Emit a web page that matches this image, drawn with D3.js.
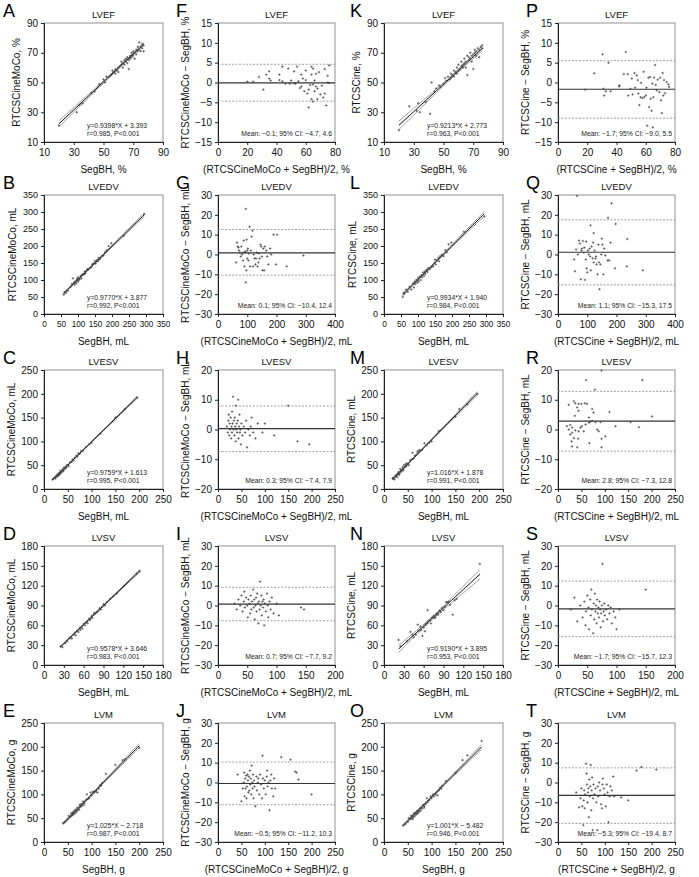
<!DOCTYPE html>
<html><head><meta charset="utf-8">
<script src="https://cdn.jsdelivr.net/npm/d3@7"></script>
<style>
body{margin:0;background:#fff}
svg{display:block}
text{font-family:"Liberation Sans",Arial,Helvetica,sans-serif}
</style>
</head><body>
<svg id="c" width="699" height="877"></svg>
<script>
// ---------------- DATA ----------------
const rowTitles = ["LVEF","LVEDV","LVESV","LVSV","LVM"];
const letters = [["A","F","K","P"],["B","G","L","Q"],["C","H","M","R"],["D","I","N","S"],["E","J","O","T"]];

// LVEF
const lvefMocoScatter = [[20,21],[32,30],[34,35],[36,36],[42,43],[44,44],[47,49],[50,52],[51,50],[52,54],[54,54],[55,55],[56,56],[56,58],[57,57],[58,59],[58,56],[59,58],[60,60],[60,57],[61,61],[62,62],[62,64],[63,60],[63,63],[64,65],[64,62],[65,66],[65,64],[66,67],[66,63],[67,65],[67,59],[68,66],[68,68],[69,67],[69,70],[70,71],[70,68],[71,66],[71,70],[72,72],[72,69],[73,74],[73,71],[74,77],[74,72],[75,74],[75,71],[76,76],[76,73],[77,75],[77,71]];
const lvefMocoBA = [[20,0.2],[24,0.2],[28,1.4],[31,-1.8],[33,2],[35,2.8],[35,1],[36,0.5],[42,2],[42,0.6],[44,4],[44,0.3],[46,-0.3],[48,3.5],[49,-0.3],[50,0.5],[52,2.8],[52,-0.2],[53,-0.3],[54,4],[55,0.3],[56,-1.4],[57,2],[57,-1],[58,1],[59,-2.2],[60,3],[60,0.6],[61,-2.8],[62,-1.8],[62,-6.3],[63,-0.6],[64,4],[64,2],[64,-4.2],[65,3.5],[65,-0.5],[65,-4.8],[66,0.5],[66,-2.2],[67,2.2],[67,-1],[68,-1.5],[68,-4.2],[69,2.6],[70,-3],[71,-0.8],[72,-3.8],[73,3.4],[73,-2.8],[74,-5.8],[75,1.7],[75,0],[76,4.3],[76,-0.1]];
const lvefCineScatter = [[20,18],[27,34],[32,31],[33,36],[34,30],[38,37],[41,29],[42,50],[44,44],[45,46],[47,48],[48,47],[50,49],[51,53],[52,51],[53,54],[54,52],[55,56],[55,53],[56,55],[57,58],[57,54],[58,57],[59,60],[59,56],[60,58],[60,62],[61,59],[62,61],[62,64],[63,62],[63,60],[64,66],[64,63],[65,60],[65,64],[66,68],[66,55],[67,65],[67,67],[68,66],[68,70],[69,68],[69,64],[70,69],[70,59],[71,72],[71,70],[72,68],[72,71],[73,73],[74,72],[74,67],[75,74],[76,75],[76,73]];
const lvefCineBA = [[18.6,-1.8],[24.8,2.3],[30.5,7.1],[31,-1.6],[31.6,-3.3],[32.7,-2.2],[34.5,5],[36,-2.2],[41.8,-1],[42,-0.7],[46.4,7.7],[45,2.1],[47.7,2.1],[48,-3.3],[49.5,-1.6],[50.5,1],[51,-3],[52.3,2.4],[52.7,-1.3],[53.9,1.8],[54.5,0.6],[55,-2.8],[55.7,-5.7],[56.4,-3.7],[56.8,-0.1],[57.7,-3.9],[58.6,2.7],[59,-3.7],[60,-3.3],[60.5,-1.3],[61,-10.9],[61.8,1.2],[62.3,-6.2],[63,1.4],[63.4,-4.1],[64,-7.1],[64.5,-0.3],[64.8,-11.3],[65.2,-3.7],[65.7,1.2],[66.4,4.4],[66.8,-0.6],[67.5,-2],[68.2,0.7],[69.3,-2.4],[69.8,1.2],[70.5,-4.5],[71,-7.7],[71.6,2.4],[72,-3.3],[72.5,0.6],[73.2,-2.7],[74.3,0.1],[75.5,-0.5],[76,-1.1]];

// LVEDV
const lvedvMocoScatter = [[58,57],[60,64],[65,62],[70,68],[78,80],[82,88],[85,105],[88,92],[90,86],[92,96],[95,90],[96,100],[98,104],[100,95],[100,108],[102,100],[105,102],[108,112],[110,105],[112,115],[115,118],[118,116],[120,125],[122,120],[125,128],[128,132],[130,130],[135,135],[140,138],[142,146],[145,148],[150,150],[150,156],[152,148],[155,158],[158,155],[160,165],[162,160],[165,163],[170,170],[175,172],[180,182],[185,188],[190,200],[198,208],[235,230],[295,294]];
const lvedvMocoBA = [[62,-4],[65,6],[68,4],[70,3.5],[72,2],[75,1],[78,-1],[80,4],[82,0],[85,1],[86,-3],[88,7],[90,-6],[92,1],[93,1.5],[95,23],[95,-14],[97,-8],[98,7.5],[100,2],[100,-2],[102,3],[104,-3],[105,0.5],[108,14],[110,-6],[112,2],[115,9],[118,12],[120,-6],[122,0],[125,-2],[128,-5],[130,-2],[132,1],[135,-6],[138,-4],[140,0.5],[142,-2],[145,5],[148,4],[150,-1],[152,-8],[155,3],[158,-8],[160,4],[165,2],[168,-1],[172,-5],[178,3],[182,0],[190,10],[198,-5],[202,10],[235,-6],[292,-0.5]];
const lvedvCineScatter = [[55,50],[58,62],[60,60],[65,72],[70,65],[75,80],[80,72],[85,90],[88,78],[90,95],[92,88],[95,100],[98,92],[100,106],[102,96],[105,110],[108,100],[110,114],[112,108],[115,122],[118,112],[120,126],[122,118],[125,130],[128,124],[130,135],[135,132],[140,138],[145,140],[148,150],[150,160],[152,146],[155,158],[160,165],[162,155],[165,170],[170,174],[175,170],[180,188],[185,182],[190,205],[198,210],[235,242],[295,287]];
const lvedvCineBA = [[65,29.5],[183,25.8],[171,18.5],[197,15.4],[111,14.7],[122,10.8],[237,7.8],[62,2.5],[68,0],[72,7],[75,5.5],[78,-12.5],[80,2],[82,3],[85,6.8],[88,1],[90,3.5],[92,-12.8],[95,-2.5],[96,6.5],[98,-7],[100,-9],[102,2],[105,0],[108,3],[110,-1],[112,-8],[115,4],[118,-2],[120,6],[122,-4],[125,2],[128,-2],[130,-1],[132,-5],[135,-10],[138,5],[140,-4],[142,-17.5],[145,-5],[148,0],[150,8],[152,5],[155,-10],[158,3],[162,-0.5],[170,-3],[175,-3],[180,6],[195,-7],[235,-6],[290,-8],[58,-8.5],[55,-2.5]];

// LVESV
const lvesvMocoScatter = [[18,20],[20,22],[22,24],[24,22],[25,27],[27,26],[28,30],[29,27],[30,32],[31,29],[32,33],[33,31],[34,38],[35,33],[36,36],[38,36],[39,41],[40,40],[41,38],[42,45],[44,42],[45,46],[47,45],[48,50],[50,50],[52,48],[55,56],[58,57],[60,62],[62,60],[65,66],[68,70],[70,68],[72,75],[75,74],[78,80],[82,80],[88,88],[95,94],[100,97],[118,116],[150,150],[170,168],[196,192]];
const lvesvMocoBA = [[19,1],[21,-1],[22,3],[23,5],[24,-2],[25,2],[26,0],[27,4],[28,-3],[29,1],[30,6],[30,-1],[31,2],[32,11],[33,0],[34,3],[35,-2],[36,4],[37,1],[38,-4],[38,8],[39,0],[40,2],[41,-1],[42,3],[43,10],[44,-3],[45,1],[46,5],[47,-1],[48,0],[49,-5],[50,2],[52,-2],[55,1],[58,-1],[60,3],[62,-6],[65,0],[68,-2],[70,1],[72,4],[75,-1],[80,-3],[85,2],[95,-1],[100,2],[120,-2],[150,8],[170,-4],[195,-5]];
const lvesvCineScatter = [[18,22],[20,24],[22,20],[24,28],[25,26],[27,30],[28,25],[29,33],[30,31],[31,36],[32,30],[33,34],[34,42],[35,36],[36,40],[38,38],[39,46],[40,42],[41,40],[42,50],[44,46],[45,52],[47,48],[48,54],[50,52],[52,50],[55,60],[58,62],[60,76],[62,64],[65,70],[68,72],[70,78],[72,80],[75,82],[80,82],[85,96],[90,92],[95,97],[100,100],[115,122],[150,152],[158,168],[175,178],[196,200]];
const lvesvCineBA = [[60,16.6],[93,19.8],[180,16.6],[79,13.4],[23,8.3],[34,9.5],[37,8.8],[44,8.6],[50,8.6],[57,8.8],[62,8.6],[73,6.9],[76,5.7],[110,5.9],[41,7.4],[44,6.3],[36,4.6],[66,4],[69,2.6],[66,2.3],[80,2.5],[91,2.5],[155,2.5],[201,4.4],[173,0.8],[123,1.1],[19,1.1],[26,1.5],[30,0.6],[37,-0.3],[44,-0.6],[55,-0.6],[84,0],[87,-0.6],[30,-1.1],[34,-2.9],[43,-3.1],[29,-4],[30,-5.7],[41,-6],[67,-4.6],[93,-3.1],[93,-6],[101,-2.3],[23,0],[26,-1.7],[48,0.6],[51,1.1],[59,1.7],[73,2.9]];

// LVSV
const lvsvMocoScatter = [[25,28],[28,27],[32,33],[35,36],[38,40],[40,42],[42,40],[45,46],[47,49],[48,45],[50,52],[52,50],[54,56],[55,53],[57,58],[58,55],[60,62],[62,60],[63,64],[65,66],[66,63],[68,70],[70,68],[72,74],[73,71],[75,76],[76,79],[78,78],[80,80],[82,82],[84,86],[86,84],[88,88],[90,92],[92,90],[95,95],[100,100],[105,104],[110,108],[140,138],[145,142]];
const lvsvMocoBA = [[28,1],[32,-2],[35,3],[38,0],[40,5],[42,-3],[44,2],[45,7],[46,-1],[48,4],[50,0],[51,-6],[52,3],[54,1],[55,-4],[56,5],[57,-2],[58,2],[60,8],[61,-1],[62,3],[63,-7],[64,0],[65,4],[66,-3],[67,6],[68,1],[69,-9],[70,2],[71,-2],[72,12],[73,0],[74,5],[75,-5],[76,2],[77,-1],[78,3],[79,-10],[80,1],[82,-3],[84,6],[85,0],[86,-6],[88,2],[90,-2],[92,4],[95,-4],[100,1],[104,-5],[142,-1],[147,-2]];
const lvsvCineScatter = [[22,38],[25,28],[40,50],[43,46],[48,46],[51,61],[53,52],[56,53],[58,44],[62,51],[63,61],[66,83],[67,66],[71,63],[76,71],[79,76],[81,78],[84,82],[86,80],[90,83],[94,95],[96,95],[100,91],[104,76],[107,98],[110,100],[35,36],[45,42],[55,58],[60,57],[65,63],[70,68],[73,72],[75,74],[78,72],[82,76],[88,86],[92,88],[98,96],[145,153]];
const lvsvCineBA = [[22,-2],[28,4],[33,-8],[38,0],[42,-6],[45,2],[47,-10],[48,-3],[50,5],[52,-1],[53,-12],[55,3],[56,-5],[57,8],[58,-2],[60,-14],[61,1],[62,-7],[63,6],[64,-3],[65,0],[66,-9],[67,3],[68,-4],[69,-1],[70,-6],[71,2],[72,-2],[73,-11],[74,-4],[75,0],[76,21],[77,-8],[78,-3],[79,1],[80,-5],[82,-2],[84,-7],[86,0],[88,-4],[90,-1],[92,-9],[95,-3],[98,-6],[100,-12],[105,-2],[150,8]];

// LVM
const lvmMocoScatter = [[40,40],[45,43],[50,48],[52,55],[55,52],[57,60],[58,55],[60,62],[60,57],[62,58],[63,65],[65,60],[66,68],[68,63],[70,72],[70,66],[72,70],[74,68],[75,78],[77,74],[78,80],[80,76],[82,85],[84,78],[85,82],[88,88],[90,100],[92,90],[95,92],[98,104],[100,98],[103,106],[105,103],[108,106],[110,108],[112,104],[115,112],[118,120],[120,118],[122,124],[130,143],[150,162],[165,172],[170,174],[200,198]];
const lvmMocoBA = [[42,4],[50,-9.5],[53,-3],[55,0],[56,5],[57,-7],[58,2],[59,-3],[60,3.5],[61,-8],[62,-2],[63,4],[64,1],[65,-5],[66,3],[67,-4],[68,6],[69,-1],[70,2],[71,-6],[72,8.5],[73,0],[74,-3],[75,4],[76,-8],[77,1],[78,-2],[80,-12],[82,3],[83,-4],[85,0],[86,2],[88,-6],[90,4],[92,-1],[94,-8],[95,13.5],[96,2],[98,-3],[100,1],[102,-6],[104,3],[105,6],[106,-2],[108,0],[110,-14],[112,1],[114,4],[115,-3],[118,-7],[120,2],[122,-3],[135,12.8],[155,11.5],[165,5.5],[168,5],[172,1.5],[200,-6]];
const lvmCineScatter = [[40,35],[45,38],[50,42],[52,50],[55,48],[57,55],[58,50],[60,55],[60,48],[62,52],[63,60],[65,55],[66,62],[68,58],[70,66],[70,60],[72,62],[74,64],[75,70],[77,66],[78,72],[80,70],[82,78],[84,72],[85,75],[88,80],[90,92],[92,84],[95,88],[98,96],[100,92],[103,100],[105,96],[108,100],[110,104],[112,98],[115,108],[118,114],[120,112],[122,118],[130,128],[150,145],[165,172],[175,182],[205,212]];
const lvmCineBA = [[39,-5],[45,-12.5],[48,-8],[50,-3],[52,-12],[54,-21.5],[55,-9],[56,-4],[57,-13],[58,-6],[60,9.5],[61,4.5],[62,-1],[63,-10],[64,-5],[65,-3],[66,-17.5],[67,1.5],[68,-7],[69,-2],[70,8.8],[71,-14],[72,-4],[73,2.5],[74,-24],[75,-8],[76,-1],[78,-6],[80,-3],[82,-10],[84,-24],[85,-2],[86,-7],[88,0],[90,-4],[92,-11],[94,-13],[95,-1],[96,2],[98,-3],[100,-6],[102,-12],[104,-1],[106,-5],[108,-20],[110,-7],[112,-2],[115,-4],[118,3],[120,-7],[135,-7.5],[150,-9],[168,6],[178,7.8],[210,6.5]];

// axis ticks per row
const scatterTicks = [[10,30,50,70,90],[0,50,100,150,200,250,300,350],[0,50,100,150,200,250],[0,30,60,90,120,150,180],[0,50,100,150,200,250]];
const baXTicks = [[0,20,40,60,80],[0,100,200,300,400],[0,50,100,150,200,250],[0,50,100,150,200],[0,50,100,150,200,250]];
const baYTicks = [[-15,-10,-5,0,5,10,15],[-30,-20,-10,0,10,20,30],[-20,-10,0,10,20],[-30,-20,-10,0,10,20,30],[-30,-20,-10,0,10,20,30]];
const units = ["%","mL","mL","mL","g"];

// regression: [slope, intercept], annotation
const mocoFit = [[0.9398,3.393],[0.9770,3.877],[0.9759,1.613],[0.9578,3.646],[1.025,-2.718]];
const mocoFitText = [["y=0.9398*X + 3.393","r=0.985, P<0.001"],["y=0.9770*X + 3.877","r=0.992, P<0.001"],["y=0.9759*X + 1.613","r=0.995, P<0.001"],["y=0.9578*X + 3.646","r=0.983, P<0.001"],["y=1.025*X \u2212 2.718","r=0.987, P<0.001"]];
const cineFit = [[0.9213,2.773],[0.9934,1.940],[1.016,1.878],[0.9190,3.895],[1.001,-5.482]];
const cineFitText = [["y=0.9213*X + 2.773","r=0.963, P<0.001"],["y=0.9934*X + 1.940","r=0.984, P<0.001"],["y=1.016*X + 1.878","r=0.991, P<0.001"],["y=0.9190*X + 3.895","r=0.953, P<0.001"],["y=1.001*X \u2212 5.482","r=0.946, P<0.001"]];

// Bland-Altman lines: [lower, mean, upper] as drawn, annotation
const mocoBALines = [[-4.7,-0.1,4.6],[-10.4,0.8,12.6],[-7.4,0.3,7.9],[-7.7,0.7,9.2],[-11.2,-0.5,10.3]];
const mocoBAText = ["Mean: \u22120.1; 95% CI: \u22124.7, 4.6","Mean: 0.1; 95% CI: \u221210.4, 12.4","Mean: 0.3; 95% CI: \u22127.4, 7.9","Mean: 0.7; 95% CI: \u22127.7, 9.2","Mean: \u22120.5; 95% CI: \u221211.2, 10.3"];
const cineBALines = [[-9.0,-1.7,5.5],[-15.3,1.1,17.5],[-7.3,2.8,12.8],[-15.7,-1.7,12.3],[-20.6,-6.5,7.4]];
const cineBAText = ["Mean: \u22121.7; 95% CI: \u22129.0, 5.5","Mean: 1.1; 95% CI: \u221215.3, 17.5","Mean: 2.8; 95% CI: \u22127.3, 12.8","Mean: \u22121.7; 95% CI: \u221215.7, 12.3","Mean: \u22125.3; 95% CI: \u221219.4, 8.7"];

const scatterData = [[lvefMocoScatter,lvefCineScatter],[lvedvMocoScatter,lvedvCineScatter],[lvesvMocoScatter,lvesvCineScatter],[lvsvMocoScatter,lvsvCineScatter],[lvmMocoScatter,lvmCineScatter]];
const baData = [[lvefMocoBA,lvefCineBA],[lvedvMocoBA,lvedvCineBA],[lvesvMocoBA,lvesvCineBA],[lvsvMocoBA,lvsvCineBA],[lvmMocoBA,lvmCineBA]];

// ---------------- LAYOUT ----------------
const colLeft=[44,218,384,558], colW=[119,117,119,117];
const rowTop=[23,195,370,546,723], H=119;
const letterX=[3,176,350,526];
const svg=d3.select('#c');
const fmt=d3.format('d');

function drawPanel(row,col){
  const L=colLeft[col], T=rowTop[row], W=colW[col];
  const isBA = (col%2===1);
  const isCine = col>=2;
  const method = isCine ? "RTCSCine" : "RTCSCineMoCo";
  const u = units[row];
  let xDom, yDom, xT, yT, xLab, yLab;
  if(!isBA){
    xT=scatterTicks[row]; yT=xT;
    xDom=[xT[0],xT[xT.length-1]]; yDom=xDom;
    xLab="SegBH, "+u; yLab=method+", "+u;
  } else {
    xT=baXTicks[row]; yT=baYTicks[row];
    xDom=[xT[0],xT[xT.length-1]]; yDom=[yT[0],yT[yT.length-1]];
    xLab="("+method+" + SegBH)/2, "+u; yLab=method+" \u2212 SegBH, "+u;
  }
  const x=d3.scaleLinear().domain(xDom).range([L,L+W]);
  const y=d3.scaleLinear().domain(yDom).range([T+H,T]);
  const g=svg.append('g');
  const xFont = (!isBA && row===1) ? 8.2 : 10;

  g.append('rect').attr('x',L).attr('y',T).attr('width',W).attr('height',H)
    .attr('fill','none').attr('stroke','#777').attr('stroke-width',0.8);

  const xa=g.append('g').attr('transform',`translate(0,${T+H})`)
    .call(d3.axisBottom(x).tickValues(xT).tickSize(3).tickPadding(4).tickFormat(fmt));
  const ya=g.append('g').attr('transform',`translate(${L},0)`)
    .call(d3.axisLeft(y).tickValues(yT).tickSize(3).tickPadding(3).tickFormat(fmt));
  [xa,ya].forEach(a=>{
    a.selectAll('text').attr('font-size',10).attr('fill','#111').attr('font-family','"Liberation Sans",Arial,sans-serif');
    a.selectAll('line').attr('stroke','#222');
    a.select('.domain').attr('stroke','#222').attr('stroke-width',1);
  });
  xa.selectAll('text').attr('font-size',xFont);
  ya.selectAll('text').attr('font-size',(!isBA && row===1)?9:10);

  // labels
  g.append('text').attr('x',L+W/2).attr('y',T-5).attr('text-anchor','middle')
    .attr('font-size',9.5).attr('fill','#111').text(rowTitles[row]);
  g.append('text').attr('x',letterX[col]).attr('y',T-6).attr('font-size',18).attr('fill','#000').text(letters[row][col]);
  g.append('text').attr('x',L+W/2).attr('y',T+H+31).attr('text-anchor','middle')
    .attr('font-size',10).attr('fill','#111').text(xLab);
  const tw=ya.node().getBBox().width;
  g.append('text').attr('transform',`translate(${L-tw-6},${T+H/2}) rotate(-90)`)
    .attr('text-anchor','middle').attr('font-size',10).attr('fill','#111').text(yLab);

  const pts = isBA ? baData[row][isCine?1:0] : scatterData[row][isCine?1:0];

  if(!isBA){
    const [a,b] = (isCine?cineFit:mocoFit)[row];
    const xs=pts.map(d=>d[0]);
    const n=pts.length, xm=d3.mean(xs);
    const sxx=d3.sum(xs,v=>(v-xm)*(v-xm));
    const s=Math.sqrt(d3.sum(pts,d=>Math.pow(d[1]-(a*d[0]+b),2))/(n-2));
    const x0=d3.min(xs), x1=d3.max(xs);
    const grid=d3.range(0,41).map(i=>x0+(x1-x0)*i/40);
    const hw=v=>2.0*s*Math.sqrt(1/n+(v-xm)*(v-xm)/sxx);
    const ln=d3.line().x(d=>x(d[0])).y(d=>y(d[1]));
    g.append('path').attr('d',ln(grid.map(v=>[v,a*v+b+hw(v)]))).attr('fill','none').attr('stroke','#777').attr('stroke-width',0.7);
    g.append('path').attr('d',ln(grid.map(v=>[v,a*v+b-hw(v)]))).attr('fill','none').attr('stroke','#777').attr('stroke-width',0.7);
    g.append('path').attr('d',ln(grid.map(v=>[v,a*v+b]))).attr('fill','none').attr('stroke','#000').attr('stroke-width',1);
    const tx=(isCine?cineFitText:mocoFitText)[row];
    g.append('text').attr('x',L+43).attr('y',T+H-14).attr('font-size',6.8).attr('fill','#222').text(tx[0]);
    g.append('text').attr('x',L+43).attr('y',T+H-6).attr('font-size',6.8).attr('fill','#222').text(tx[1]);
  } else {
    const [lo,mn,hi]=(isCine?cineBALines:mocoBALines)[row];
    [lo,hi].forEach(v=>g.append('line').attr('x1',L).attr('x2',L+W).attr('y1',y(v)).attr('y2',y(v))
      .attr('stroke','#888').attr('stroke-width',0.8).attr('stroke-dasharray','2,1.5'));
    g.append('line').attr('x1',L).attr('x2',L+W).attr('y1',y(mn)).attr('y2',y(mn))
      .attr('stroke','#333').attr('stroke-width',1.1);
    const tx=(isCine?cineBAText:mocoBAText)[row];
    g.append('text').attr('x',L+W-3).attr('y',T+H-6).attr('text-anchor','end').attr('font-size',6.8).attr('fill','#222').text(tx);
  }

  g.append('g').selectAll('path').data(pts).join('path')
    .attr('d',d=>{const cx=x(d[0]),cy=y(d[1]);return `M${cx-1.2},${cy}h2.4M${cx},${cy-1.2}v2.4`;})
    .attr('stroke','#444').attr('stroke-width',0.7).attr('fill','none');
}

for(let r=0;r<5;r++) for(let c=0;c<4;c++) drawPanel(r,c);
</script>
</body></html>
